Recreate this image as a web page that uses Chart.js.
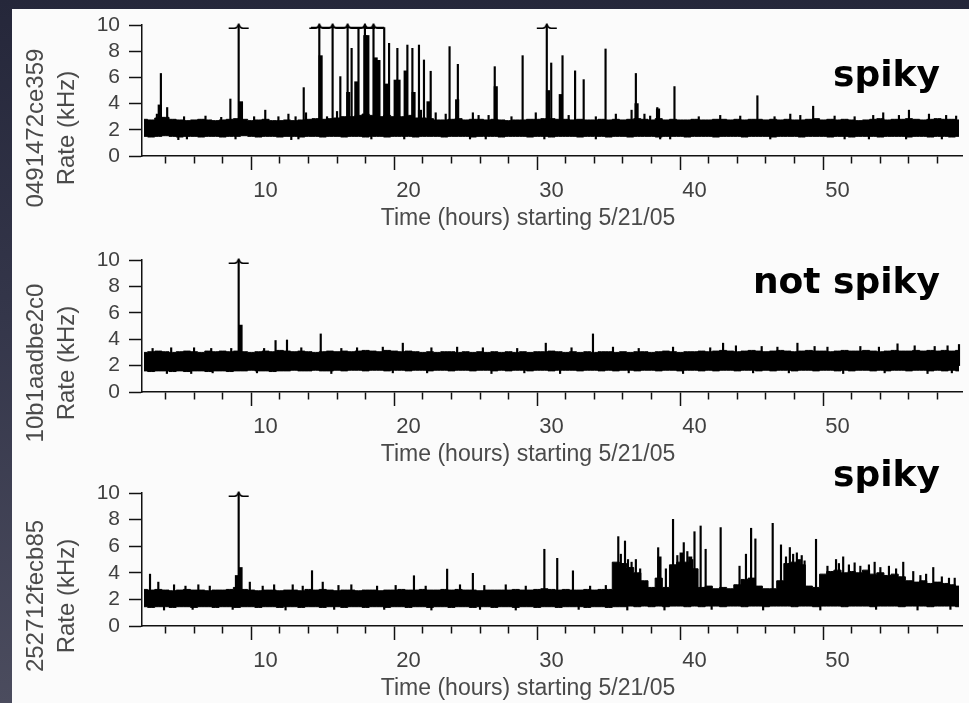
<!DOCTYPE html>
<html><head><meta charset="utf-8">
<script src="https://cdn.jsdelivr.net/npm/chart.js"></script>
<style>
html,body{margin:0;padding:0;width:969px;height:703px;overflow:hidden;}
body{background:linear-gradient(180deg,#25273a 0%,#34364a 45%,#4b4c5e 100%);position:relative;}
#sheet{position:absolute;left:12px;top:9px;right:0;bottom:0;background:#fbfbfb;}
canvas{position:absolute;left:0;}
</style></head>
<body><div id="sheet"></div>
<canvas id="c1"></canvas><canvas id="c2"></canvas><canvas id="c3"></canvas>
<script>
// ---------- data (hours on x, kHz on y) ----------
const xTitle = 'Time (hours) starting 5/21/05';
const yUnit = 'Rate (kHz)';
const yTicks = [0, 2, 4, 6, 8, 10];
const xLabelTicks = [10, 20, 30, 40, 50];
const bandStart = 1.5, bandStep = 0.5;   // band envelope sampled every half hour

// panel 1 : 0491472ce359
const hi1 = [2.8,2.75,2.9,2.95,2.8,2.75,2.7,2.75,2.8,2.75,
 2.7,2.75,2.8,2.85,2.8,2.7,2.75,2.8,2.7,2.7,
 2.75,2.7,2.75,2.8,2.85,2.8,2.85,2.9,3.0,3.0,
 3.1,3.2,3.1,3.0,3.1,3.0,3.0,3.1,2.9,2.9,
 2.85,2.75,2.75,2.8,2.85,2.75,2.8,2.8,2.75,2.8,
 2.75,2.7,2.75,2.75,2.8,2.8,2.85,2.85,2.8,2.8,
 2.75,2.8,2.75,2.75,2.8,2.75,2.8,2.75,2.8,2.85,
 2.8,2.75,2.85,2.75,2.8,2.75,2.75,2.8,2.75,2.75,
 2.8,2.8,2.75,2.8,2.75,2.8,2.8,2.75,2.8,2.75,
 2.8,2.75,2.75,2.8,2.85,2.75,2.8,2.75,2.8,2.75,
 2.7,2.75,2.8,2.85,2.75,2.8,2.8,2.85,2.8,2.75,
 2.8,2.85,2.8,2.8,2.75];
const lo1 = [1.5,1.45,1.5,1.55,1.5,1.45,1.5,1.5,1.45,1.5,
 1.5,1.45,1.5,1.5,1.55,1.5,1.45,1.5,1.5,1.45,
 1.5,1.5,1.45,1.5,1.5,1.45,1.5,1.5,1.45,1.5,
 1.5,1.45,1.5,1.5,1.45,1.5,1.5,1.5,1.45,1.5,
 1.5,1.5,1.45,1.5,1.5,1.5,1.45,1.5,1.5,1.5,
 1.45,1.5,1.5,1.5,1.45,1.5,1.5,1.45,1.5,1.5,
 1.5,1.45,1.5,1.5,1.5,1.45,1.5,1.5,1.45,1.5,
 1.5,1.5,1.45,1.5,1.5,1.5,1.45,1.5,1.5,1.5,
 1.45,1.5,1.5,1.5,1.45,1.5,1.5,1.5,1.45,1.5,
 1.5,1.5,1.45,1.5,1.5,1.5,1.45,1.5,1.5,1.45,
 1.5,1.5,1.5,1.45,1.5,1.5,1.5,1.45,1.5,1.5,
 1.45,1.5,1.5,1.45,1.5];
const spikes1 = [[2.4,3.2],[2.68,6.3],[3.12,3.7],[4.3,3.0],[5.8,3.05],[6.9,2.95],[7.54,4.35],[9.2,3.0],[9.98,3.5],[10.9,3.0],[11.6,3.2],[12.1,3.0],[12.67,5.22],[12.83,3.3],[14.3,3.0],[15.0,3.4],[15.23,6.06],[16.02,8.22],[16.5,9.8],[17.95,7.3],[18.3,9.8],[18.64,8.6],[19.22,8.22],[19.92,8.47],[20.27,8.22],[20.73,8.47],[21.08,7.33],[21.55,6.47],[21.9,3.3],[22.6,3.2],[22.87,8.35],[23.45,7.0],[24.5,3.3],[24.9,3.1],[25.6,3.1],[26.03,6.82],[27.2,3.0],[27.98,7.66],[28.9,3.3],[29.98,7.1],[30.77,7.66],[31.2,3.1],[31.65,6.5],[32.25,5.83],[33.1,3.0],[33.78,8.17],[34.5,3.2],[35.6,3.5],[35.9,6.3],[36.5,3.2],[36.9,3.05],[37.4,3.7],[38.6,5.3],[40.3,3.0],[41.8,3.1],[43.2,3.05],[44.4,4.6],[45.6,3.0],[46.7,3.2],[47.4,3.1],[48.3,3.8],[49.8,3.05],[51.2,3.0],[52.5,3.1],[53.2,3.3],[54.3,3.1],[55.0,3.5],[56.4,3.2],[57.6,3.1],[58.3,3.05]];
const bursts1 = [[2.6,3.9],[8.28,4.15],[13.85,7.66],[15.78,4.86],[16.35,5.67],[16.98,9.2],[17.12,9.2],[17.7,7.5],[17.88,7.3],[18.5,5.5],[19.1,5.8],[19.3,5.8],[19.8,6.5],[20.35,4.86],[20.8,3.5],[21.4,4.15],[23.4,4.3],[26.1,5.3],[29.75,5.0],[30.65,4.7],[35.95,4.0],[37.45,3.6]];
const dips1 = [[3.9,1.25],[4.5,1.3],[7.9,1.3],[11.8,1.25],[12.3,1.3],[17.4,1.3],[19.7,1.3],[24.3,1.3],[25.4,1.3],[29.5,1.3],[33.1,1.3],[37.6,1.3],[38.3,1.3],[45.3,1.3],[50.5,1.3],[52.2,1.3],[54.8,1.3],[57.3,1.3]];
const arrows1 = [8.12,13.76,14.69,15.74,16.95,17.55,29.67];   // off-scale (>10 kHz)
const runs1 = [[13.18,18.3]];                                   // consecutive off-scale run

// panel 2 : 10b1aadbe2c0
const hi2 = [3.0,3.05,3.1,3.05,3.0,3.05,3.1,3.05,3.0,3.1,
 3.05,3.1,3.05,3.1,3.05,3.0,3.05,3.1,3.05,3.15,
 3.1,3.05,3.1,3.05,3.0,3.05,3.1,3.05,3.1,3.05,
 3.1,3.15,3.1,3.05,3.15,3.1,3.05,3.1,3.05,3.0,
 3.05,3.0,3.05,3.05,3.0,3.05,3.0,3.05,3.0,3.05,
 3.0,3.05,3.0,3.05,3.0,3.05,3.05,3.1,3.05,3.0,
 3.05,3.0,3.05,3.0,3.05,3.05,3.0,3.05,3.0,3.05,
 3.05,3.0,3.05,3.1,3.05,3.0,3.05,3.05,3.1,3.05,
 3.1,3.15,3.1,3.05,3.1,3.15,3.1,3.05,3.1,3.15,
 3.1,3.05,3.1,3.15,3.1,3.1,3.05,3.1,3.15,3.1,
 3.1,3.15,3.1,3.05,3.1,3.15,3.1,3.1,3.15,3.1,
 3.15,3.1,3.15,3.1,3.15];
const lo2 = [1.6,1.55,1.6,1.6,1.55,1.6,1.55,1.6,1.6,1.55,
 1.6,1.6,1.55,1.6,1.6,1.65,1.6,1.6,1.55,1.6,
 1.6,1.65,1.6,1.6,1.65,1.6,1.6,1.65,1.6,1.65,
 1.65,1.6,1.65,1.65,1.6,1.65,1.65,1.6,1.65,1.65,
 1.6,1.65,1.65,1.6,1.65,1.65,1.6,1.65,1.65,1.6,
 1.65,1.6,1.65,1.65,1.6,1.65,1.65,1.6,1.65,1.65,
 1.65,1.6,1.65,1.65,1.6,1.65,1.6,1.65,1.65,1.6,
 1.65,1.65,1.6,1.65,1.65,1.6,1.65,1.65,1.6,1.65,
 1.6,1.65,1.65,1.6,1.65,1.65,1.6,1.65,1.6,1.65,
 1.65,1.6,1.65,1.65,1.6,1.65,1.65,1.6,1.65,1.6,
 1.65,1.65,1.6,1.65,1.6,1.65,1.65,1.6,1.65,1.65,
 1.6,1.65,1.6,1.65,1.6];
const spikes2 = [[2.1,3.3],[3.4,3.35],[5.0,3.35],[6.2,3.3],[7.6,3.3],[9.9,3.3],[10.7,3.9],[11.5,3.94],[12.5,3.35],[13.86,4.4],[15.3,3.3],[16.4,3.35],[18.2,3.4],[19.6,3.7],[21.6,3.35],[23.4,3.4],[25.2,3.35],[27.6,3.3],[29.6,3.7],[31.4,3.35],[32.9,4.4],[34.3,3.4],[36.1,3.3],[38.5,3.4],[41.1,3.35],[42.0,3.7],[42.9,3.5],[44.7,3.45],[45.8,3.4],[47.2,3.7],[48.4,3.45],[49.3,3.4],[51.6,3.45],[52.9,3.4],[54.2,3.65],[55.4,3.5],[56.8,3.45],[57.7,3.5],[58.5,3.6]];
const bursts2 = [[8.25,5.07]];
const dips2 = [[3.1,1.4],[4.8,1.4],[6.3,1.45],[9.4,1.45],[14.6,1.4],[18.9,1.45],[21.3,1.45],[25.8,1.4],[28.1,1.45],[30.6,1.4],[35.4,1.45],[39.2,1.4],[44.1,1.45],[46.6,1.45],[50.4,1.4],[53.3,1.45],[56.3,1.4],[58.0,1.45]];
const arrows2 = [8.12];
const runs2 = [];

// panel 3 : 252712fecb85
const hi3 = [2.75,2.7,2.75,2.7,2.65,2.7,2.75,2.7,2.7,2.65,
 2.7,2.7,2.75,2.9,2.75,2.7,2.65,2.7,2.7,2.65,
 2.7,2.7,2.65,2.75,2.7,2.75,2.7,2.65,2.7,2.7,
 2.65,2.7,2.7,2.65,2.7,2.7,2.75,2.7,2.7,2.75,
 2.7,2.7,2.75,2.7,2.75,2.7,2.7,2.65,2.7,2.7,
 2.7,2.7,2.75,2.7,2.7,2.75,2.8,2.75,2.7,2.75,
 2.7,2.7,2.75,2.7,2.75,2.75,4.8,4.7,4.4,4.0,
 3.4,2.9,3.6,2.9,4.6,4.8,4.8,4.3,2.9,3.0,
 2.8,2.9,2.8,3.1,3.5,3.6,3.0,2.8,2.8,3.4,
 4.7,4.8,4.6,3.0,2.9,3.9,4.1,4.2,4.0,4.1,
 4.0,4.2,3.9,4.0,3.8,3.9,3.7,3.4,3.3,3.4,
 3.2,3.3,3.2,3.1,3.0];
const lo3 = [1.45,1.4,1.45,1.45,1.4,1.45,1.45,1.4,1.45,1.45,
 1.4,1.45,1.45,1.4,1.45,1.45,1.4,1.45,1.45,1.4,
 1.45,1.45,1.4,1.45,1.45,1.4,1.45,1.45,1.4,1.45,
 1.45,1.4,1.45,1.45,1.4,1.45,1.45,1.4,1.45,1.45,
 1.4,1.45,1.45,1.4,1.45,1.45,1.4,1.45,1.45,1.4,
 1.45,1.45,1.4,1.45,1.45,1.4,1.45,1.45,1.4,1.45,
 1.45,1.45,1.4,1.45,1.45,1.4,1.45,1.45,1.5,1.45,
 1.5,1.45,1.5,1.45,1.5,1.5,1.45,1.5,1.45,1.5,
 1.5,1.45,1.5,1.5,1.45,1.5,1.5,1.45,1.5,1.5,
 1.5,1.45,1.5,1.5,1.45,1.5,1.5,1.5,1.45,1.5,
 1.5,1.5,1.45,1.5,1.5,1.5,1.45,1.5,1.5,1.5,
 1.45,1.5,1.5,1.5,1.45];
const spikes3 = [[1.92,3.9],[2.5,3.3],[3.6,3.1],[4.4,3.0],[5.3,3.1],[6.1,3.0],[8.9,3.3],[9.8,3.0],[10.6,3.1],[11.9,3.1],[12.6,3.0],[13.25,4.16],[14.0,3.3],[15.1,3.05],[16.0,3.1],[17.8,3.0],[19.1,3.05],[20.38,3.78],[21.2,3.0],[22.7,4.28],[23.6,3.1],[24.5,3.96],[25.3,3.05],[26.8,3.1],[28.2,3.0],[29.5,5.77],[30.4,5.09],[31.5,4.15],[32.7,3.0],[33.8,3.05],[34.67,6.72],[34.85,5.4],[35.14,6.39],[35.35,5.0],[35.6,4.8],[35.9,5.0],[36.2,4.3],[37.46,5.89],[38.0,4.3],[38.5,8.02],[38.8,5.3],[39.25,6.27],[39.5,5.6],[39.85,5.0],[40.0,7.09],[40.43,7.52],[40.78,5.77],[41.83,7.4],[43.15,4.5],[43.6,5.4],[43.96,7.35],[44.26,6.55],[45.47,7.72],[46.05,6.1],[46.4,5.2],[46.67,5.9],[46.9,5.4],[47.16,5.5],[47.5,5.3],[47.7,4.9],[48.5,6.52],[49.3,4.5],[49.9,5.0],[50.1,4.7],[50.4,5.2],[50.8,4.6],[51.2,4.75],[51.6,4.5],[52.2,4.6],[52.6,4.8],[53.0,4.4],[53.6,4.5],[54.1,4.3],[54.6,4.8],[55.3,4.1],[55.8,3.8],[56.2,3.9],[56.7,4.4],[57.3,3.7],[57.8,3.6],[58.2,3.6]];
const bursts3 = [[8.0,3.8],[8.25,4.4],[37.55,5.2],[39.1,5.5],[39.7,5.2],[47.3,5.0]];
const dips3 = [[2.9,1.2],[4.9,1.25],[7.7,1.25],[11.4,1.2],[14.8,1.25],[18.3,1.25],[21.6,1.2],[25.0,1.25],[27.5,1.2],[31.9,1.25],[35.3,1.2],[37.9,1.2],[41.2,1.25],[44.8,1.2],[48.8,1.2],[52.7,1.25],[55.6,1.2],[57.9,1.25]];
const arrows3 = [8.12];
const runs3 = [];

// ---------- layout / style ----------
const FONT = '"Liberation Sans", Arial, Helvetica, sans-serif';
const PANELS = [
  {name:'0491472ce359', tag:'spiky',     y10:25,  y0:156, top:0,   tagBase:86,
   hi:hi1, lo:lo1, spikes:spikes1, bursts:bursts1, dips:dips1, arrows:arrows1, runs:runs1, cv:'c1'},
  {name:'10b1aadbe2c0', tag:'not spiky', y10:260, y0:392, top:228, tagBase:293,
   hi:hi2, lo:lo2, spikes:spikes2, bursts:bursts2, dips:dips2, arrows:arrows2, runs:runs2, cv:'c2'},
  {name:'252712fecb85', tag:'spiky',     y10:493, y0:626, top:440, tagBase:486,
   hi:hi3, lo:lo3, spikes:spikes3, bursts:bursts3, dips:dips3, arrows:arrows3, runs:runs3, cv:'c3'}
];

function makeArrowHead(){
  const c = document.createElement('canvas'); c.width = 22; c.height = 10;
  const g = c.getContext('2d');
  g.strokeStyle = '#000'; g.lineWidth = 1.6; g.lineJoin = 'round';
  g.beginPath(); g.moveTo(1, 8.2); g.lineTo(7, 8.2);
  g.quadraticCurveTo(9.8, 8, 11, 4); g.quadraticCurveTo(12.2, 8, 15, 8.2);
  g.lineTo(21, 8.2); g.stroke();
  return c;
}
const arrowHead = makeArrowHead();

function band(vals){ return vals.map((v,i)=>({x: bandStart + i*bandStep, y: v})); }
function isLabelTick(v){ return xLabelTicks.some(t => Math.abs(t - v) < 1e-6); }

function textPlugin(p){
  return {
    id: 'txt_' + p.cv,
    afterDraw(chart){
      const c = chart.ctx, off = p.top;
      c.save();
      c.fillStyle = '#4a4a4a';
      c.textAlign = 'center'; c.textBaseline = 'middle';
      c.font = '24px ' + FONT;
      const cy = p.y10 + 103 - off;
      c.save(); c.translate(36, cy); c.rotate(-Math.PI/2); c.fillText(p.name, 0, 0); c.restore();
      c.save(); c.translate(67, cy); c.rotate(-Math.PI/2); c.fillText(yUnit, 0, 0); c.restore();
      c.font = '23px ' + FONT;
      c.fillText(xTitle, 528, p.y0 + 63 - off);
      c.fillStyle = '#000';
      c.font = 'bold 36px "DejaVu Sans", sans-serif';
      c.textAlign = 'right'; c.textBaseline = 'alphabetic';
      c.fillText(p.tag, 940, p.tagBase - off);
      c.restore();
    }
  };
}

function build(p){
  const H = p.y0 + 77 - p.top;
  const cv = document.getElementById(p.cv);
  cv.width = 969; cv.height = H;
  cv.style.top = p.top + 'px'; cv.style.width = '969px'; cv.style.height = H + 'px';

  const spikeData = p.spikes.map(([x,t]) => ({x, y:[2, t]}))
        .concat(p.arrows.map(x => ({x, y:[2, 10]})));
  const burstData = p.bursts.map(([x,t]) => ({x, y:[2, t]}));
  const dipData = p.dips.map(([x,b]) => ({x, y:[b, 2]}));
  const arrowData = p.arrows.map(x => ({x, y:10}));

  const datasets = [
    {type:'line', data: band(p.hi), stepped:'middle', borderColor:'#000', backgroundColor:'#000',
     borderWidth:1, pointRadius:0, fill:'+1'},
    {type:'line', data: band(p.lo), stepped:'middle', borderColor:'#000', backgroundColor:'#000',
     borderWidth:1, pointRadius:0, fill:false},
    {type:'bar', data: spikeData, barThickness:1.5, backgroundColor:'#000', grouped:false, clip:false},
    {type:'bar', data: burstData, barThickness:3.5, backgroundColor:'#000', grouped:false},
    {type:'bar', data: dipData, barThickness:1.5, backgroundColor:'#000', grouped:false},
    {type:'line', data: arrowData, showLine:false, pointStyle: arrowHead, pointRadius:6, clip:false}
  ];
  p.runs.forEach(([a,b]) => datasets.push({type:'line', data:[{x:a,y:9.8},{x:b,y:9.8}],
     borderColor:'#000', borderWidth:1.5, pointRadius:0, clip:false, fill:false}));

  new Chart(cv, {
    type: 'line',
    data: { datasets },
    options: {
      responsive:false, animation:false, events:[], devicePixelRatio:1,
      layout:{ padding:{ top: p.y10 - p.top, right: 4, left: 0, bottom: 0 } },
      plugins:{ legend:{display:false}, tooltip:{enabled:false} },
      scales:{
        x:{ type:'linear', min:1.359, max:58.71, offset:false,
            afterFit: s => { s.height = H - (p.y0 - p.top); },
            grid:{ drawOnChartArea:false, drawTicks:true, tickLength:14, tickWidth:1.5, tickColor:'#111',
                   tickBorderDash: ctx => (ctx.tick && isLabelTick(ctx.tick.value)) ? [] : [7, 60] },
            border:{ display:true, color:'#111', width:1.5 },
            ticks:{ stepSize:2, includeBounds:false, autoSkip:false, maxRotation:0, minRotation:0,
                    padding:8, color:'#404040', font:{ family:FONT, size:22 },
                    callback: v => isLabelTick(v) ? String(v) : '' } },
        y:{ type:'linear', min:0, max:10,
            afterFit: s => { s.width = 142; },
            grid:{ drawOnChartArea:false, drawTicks:true, tickLength:13, tickWidth:1.5, tickColor:'#111' },
            border:{ display:true, color:'#111', width:1.5 },
            afterBuildTicks: s => { s.ticks = yTicks.map(v => ({value:v})); },
            ticks:{ stepSize:2, autoSkip:false, padding:9, color:'#404040', font:{ family:FONT, size:21 } } }
      }
    },
    plugins:[ textPlugin(p) ]
  });
}
PANELS.forEach(build);
</script>
</body></html>
